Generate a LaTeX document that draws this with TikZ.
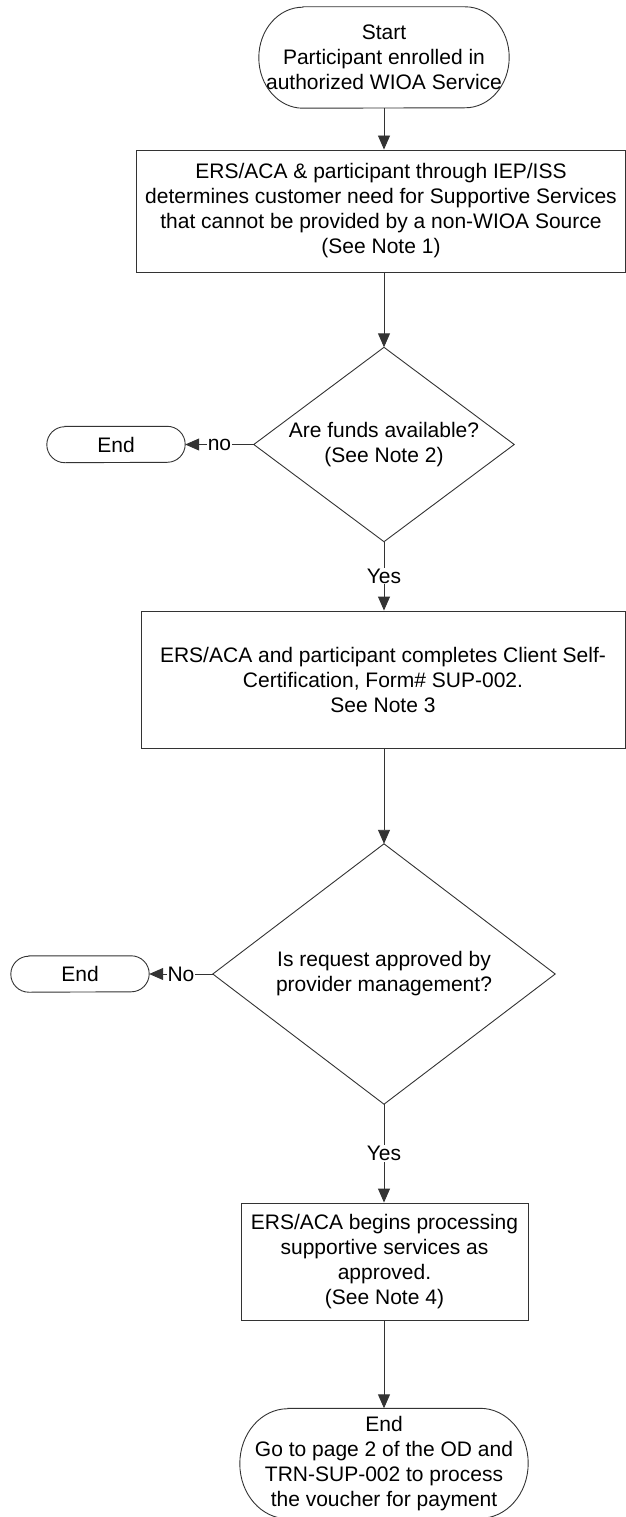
\documentclass[tikz,border=0pt]{standalone}
\usepackage{fontspec}
\setmainfont{Liberation Sans}
\usetikzlibrary{arrows.meta}
\tikzset{
  ln/.style={draw=black!80, line width=0.9pt},
  arr/.style={ln, -{Triangle[length=14pt,width=12pt]}},
  txt/.style={font=\fontsize{21pt}{25pt}\selectfont, align=center, inner sep=0pt, text=black},
  boxn/.style={txt, rectangle, draw=black!80, line width=0.9pt},
  shapen/.style={txt, rectangle},
  lbl/.style={font=\fontsize{21pt}{25pt}\selectfont, fill=white, inner sep=1pt, text=black},
}
\newcommand\termpath[3]{%
  \draw[ln] ([xshift=#2]#1.north west) -- ([xshift=-#2]#1.north east)
    arc[start angle=90, end angle=-90, x radius=#2, y radius=#3]
    -- ([xshift=#2]#1.south west)
    arc[start angle=270, end angle=90, x radius=#2, y radius=#3] -- cycle;}
\newcommand\diampath[1]{%
  \draw[ln] (#1.north) -- (#1.east) -- (#1.south) -- (#1.west) -- cycle;}
\begin{document}
\begin{tikzpicture}[x=1pt,y=-1pt]
\useasboundingbox (0,0) rectangle (626,1517);
% nodes
\node[shapen, minimum width=250pt, minimum height=101pt] (start) at (384,57.5)
  {Start\\Participant enrolled in\\authorized WIOA Service};
\node[boxn, minimum width=489pt, minimum height=122pt] (b1) at (381,211)
  {ERS/ACA \& participant through IEP/ISS\\determines customer need for Supportive Services\\that cannot be provided by a non-WIOA Source\\(See Note 1)};
\node[shapen, minimum width=260pt, minimum height=194pt] (d1) at (384,444.5)
  {Are funds available?\\(See Note 2)};
\node[shapen, minimum width=138pt, minimum height=36pt] (e1) at (116,444.5) {End};
\node[boxn, minimum width=484pt, minimum height=137pt] (b2) at (383,679.5)
  {ERS/ACA and participant completes Client Self-\\Certification, Form\# SUP-002.\\See Note 3};
\node[shapen, minimum width=342pt, minimum height=260pt] (d2) at (384,974)
  {Is request approved by\\provider management?};
\node[shapen, minimum width=138pt, minimum height=36pt] (e2) at (80,974) {End};
\node[boxn, minimum width=287pt, minimum height=117pt] (b3) at (384.5,1261.5)
  {ERS/ACA begins processing\\supportive services as\\approved.\\(See Note 4)};
\node[shapen, minimum width=288pt, minimum height=110pt] (e3) at (384,1463.5)
  {End\\Go to page 2 of the OD and\\TRN-SUP-002 to process\\the voucher for payment};
% outlines
\termpath{start}{44pt}{50.5pt}
\diampath{d1}
\termpath{e1}{18pt}{18pt}
\diampath{d2}
\termpath{e2}{18pt}{18pt}
\termpath{e3}{48pt}{55pt}
% connectors
\draw[arr] (start.south) -- (start.south |- b1.north);
\draw[arr] (d1.north |- b1.south) -- (d1.north);
\draw[arr] (d1.west) -- node[lbl]{no} (e1.east);
\draw[arr] (d1.south) -- node[lbl]{Yes} (d1.south |- b2.north);
\draw[arr] (d2.north |- b2.south) -- (d2.north);
\draw[arr] (d2.west) -- node[lbl]{No} (e2.east);
\draw[arr] (d2.south) -- node[lbl]{Yes} (d2.south |- b3.north);
\draw[arr] (e3.north |- b3.south) -- (e3.north);
\end{tikzpicture}
\end{document}
